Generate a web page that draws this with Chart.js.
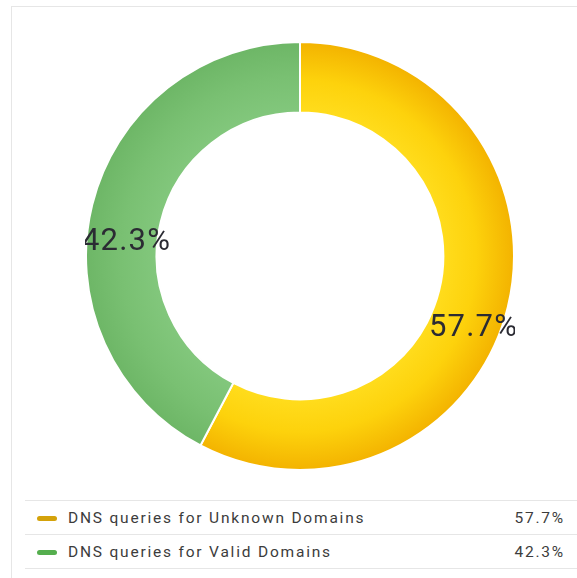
<!DOCTYPE html>
<html>
<head>
<meta charset="utf-8">
<script src="https://cdn.jsdelivr.net/npm/chart.js@4"></script>
<style>
  html, body { margin: 0; padding: 0; background: #fff; overflow: hidden; }
  body { width: 577px; height: 578px; position: relative; font-family: Roboto, "Liberation Sans", sans-serif; }
  .card { position: absolute; left: 11px; top: 6px; width: 600px; height: 600px; border: 1px solid #e6e6e6; box-sizing: border-box; }
  #wrap { position: absolute; left: 85px; top: 41px; width: 430px; height: 430px; }
  table { position: absolute; left: 25px; top: 500px; width: 560px; border-collapse: collapse; font-size: 15.5px; letter-spacing: 1.8px; color: #3c3c3c; }
  td { border-top: 1px solid #e6e6e6; border-bottom: 1px solid #e6e6e6; height: 33px; padding: 0; vertical-align: middle; }
  td.m { width: 43px; }
  td.m span { display: inline-block; width: 20px; height: 5px; border-radius: 3px; margin-left: 12px; vertical-align: middle; }
  td.v { text-align: right; padding-right: 20px; }
</style>
</head>
<body>
<div class="card"></div>
<div id="wrap"><canvas id="c"></canvas></div>
<table id="legend"></table>
<script>
const categories = ["DNS queries for Unknown Domains", "DNS queries for Valid Domains"];
const values = [57.7, 42.3];
const valueLabels = ["57.7%", "42.3%"];
const legendColors = ["#d4a20a", "#55ae4e"];
const cutoutRatio = 0.67;

const tbody = document.getElementById('legend');
categories.forEach((c, i) => {
  const tr = document.createElement('tr');
  tr.innerHTML = '<td class="m"><span style="background:' + legendColors[i] + '"></span></td><td>' + c + '</td><td class="v">' + valueLabels[i] + '</td>';
  tbody.appendChild(tr);
});

const gradStops = [
  [[0, '#ffdc1c'], [0.45, '#fdd20c'], [1, '#f3b200']],
  [[0, '#82c77c'], [0.5, '#79c072'], [1, '#6db666']]
];

function ringGradient(ctx) {
  const chart = ctx.chart;
  const area = chart.chartArea;
  const stops = gradStops[ctx.dataIndex];
  if (!area) return stops[0][1];
  const cx = (area.left + area.right) / 2;
  const cy = (area.top + area.bottom) / 2;
  const or = Math.min(area.right - area.left, area.bottom - area.top) / 2;
  const ir = or * cutoutRatio;
  const g = chart.ctx.createRadialGradient(cx, cy, ir, cx, cy, or);
  stops.forEach(s => g.addColorStop(s[0], s[1]));
  return g;
}

const labelPlugin = {
  id: 'sliceLabels',
  afterDatasetsDraw(chart) {
    const ctx = chart.ctx;
    const meta = chart.getDatasetMeta(0);
    ctx.save();
    ctx.font = '31px Roboto, "Liberation Sans", sans-serif';
    if ('letterSpacing' in ctx) ctx.letterSpacing = '1.2px';
    ctx.fillStyle = '#2b2b33';
    ctx.textAlign = 'center';
    ctx.textBaseline = 'middle';
    meta.data.forEach((arc, i) => {
      const p = arc.tooltipPosition();
      ctx.fillText(valueLabels[i], p.x, p.y + 29);
    });
    ctx.restore();
  }
};

new Chart(document.getElementById('c'), {
  type: 'doughnut',
  data: {
    labels: categories,
    datasets: [{
      data: values,
      backgroundColor: ringGradient,
      borderColor: '#ffffff',
      borderWidth: 2
    }]
  },
  options: {
    responsive: true,
    maintainAspectRatio: false,
    animation: false,
    cutout: (cutoutRatio * 100) + '%',
    layout: { padding: 0 },
    plugins: {
      legend: { display: false },
      tooltip: { enabled: false }
    }
  },
  plugins: [labelPlugin]
});
</script>
</body>
</html>
